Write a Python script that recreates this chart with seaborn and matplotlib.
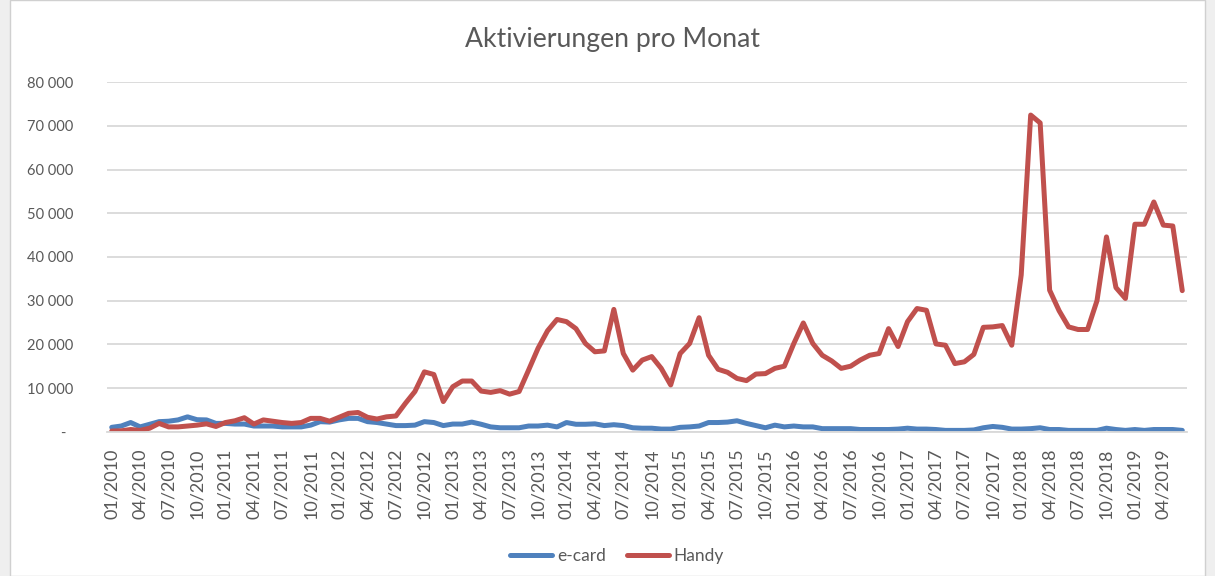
import matplotlib
matplotlib.use("Agg")
import matplotlib.pyplot as plt
from matplotlib.patches import Rectangle
import pandas as pd
import seaborn as sns

# Monate 01/2010 - 06/2019
months = pd.date_range("2010-01-01", periods=114, freq="MS")
month_labels = [m.strftime("%m/%Y") for m in months]

ecard = [1000, 1300, 2100, 1100, 1700, 2300, 2400, 2700, 3400, 2750,
         2700, 1900, 1900, 1750, 1750, 1300, 1300, 1300, 1100, 1100,
         1100, 1500, 2300, 2200, 2700, 3050, 3050, 2300, 2100, 1750,
         1400, 1400, 1500, 2300, 2100, 1400, 1750, 1750, 2200, 1700,
         1100, 900, 900, 900, 1300, 1300, 1500, 1100, 2100, 1700,
         1700, 1800, 1400, 1600, 1400, 900, 800, 800, 600, 600,
         1000, 1100, 1300, 2100, 2100, 2200, 2500, 1900, 1400, 900,
         1500, 1100, 1300, 1100, 1100, 700, 700, 700, 700, 500,
         500, 500, 500, 600, 800, 600, 600, 500, 300, 300,
         300, 400, 900, 1200, 1000, 600, 600, 700, 900, 500,
         500, 300, 300, 300, 300, 800, 500, 300, 500, 300,
         500, 500, 500, 300]

handy = [150, 200, 500, 300, 800, 1900, 1100, 1100, 1300, 1500,
         1800, 1200, 2100, 2500, 3200, 1750, 2700, 2400, 2100, 1900,
         2100, 3050, 3050, 2400, 3300, 4200, 4400, 3300, 2900, 3400,
         3600, 6500, 9200, 13700, 13100, 6900, 10300, 11600, 11600, 9300,
         9000, 9400, 8600, 9200, 14100, 19100, 23100, 25700, 25200, 23600,
         20200, 18300, 18500, 28000, 17900, 14100, 16400, 17200, 14500, 10700,
         17900, 20200, 26100, 17500, 14300, 13600, 12200, 11700, 13200, 13300,
         14500, 15000, 20200, 24900, 20200, 17500, 16200, 14500, 15000, 16400,
         17500, 17900, 23600, 19500, 25200, 28200, 27800, 20100, 19800, 15600,
         16000, 17700, 23900, 24000, 24300, 19800, 35900, 72500, 70700, 32400,
         27700, 24000, 23400, 23400, 30000, 44600, 33000, 30500, 47500, 47500,
         52600, 47300, 47100, 32300]

y_ticks = [0, 10000, 20000, 30000, 40000, 50000, 60000, 70000, 80000]
y_labels = ["-  ", "10 000", "20 000", "30 000", "40 000",
            "50 000", "60 000", "70 000", "80 000"]

df = pd.DataFrame({
    "idx": list(range(len(months))) * 2,
    "wert": ecard + handy,
    "serie": ["e-card"] * len(ecard) + ["Handy"] * len(handy),
})

sns.set_theme(style="white")
plt.rcParams["font.family"] = ["Lato", "DejaVu Sans"]
grau = "#595959"

fig = plt.figure(figsize=(12.15, 5.76), dpi=100, facecolor="#EFEFEF")
# weisser Diagrammbereich (hinter den Achsen)
fig.patches.append(Rectangle((10 / 1215, 0), 1195 / 1215, 1, transform=fig.transFigure,
                             facecolor="white", edgecolor="#D0D0D0", lw=1, zorder=-10))
ax = fig.add_axes([107 / 1215, 1 - 431.7 / 576, 1080 / 1215, 349.4 / 576])
ax.set_facecolor("white")

sns.lineplot(data=df, x="idx", y="wert", hue="serie", ax=ax,
             palette={"e-card": "#4F81BD", "Handy": "#C0504D"},
             linewidth=3.6, legend=False)
for line in ax.get_lines():
    line.set_solid_joinstyle("round")
    line.set_solid_capstyle("round")

ax.set_xlim(-0.5, len(months) - 0.5)
ax.set_ylim(0, 80000)
ax.set_yticks(y_ticks)
ax.set_yticklabels(y_labels, fontsize=10.5, color=grau)
ax.set_xticks(range(0, len(months), 3))
ax.set_xticklabels(month_labels[::3], rotation=90, fontsize=13, color=grau)
ax.tick_params(axis="y", length=0, pad=24)
ax.tick_params(axis="x", length=0, pad=12)
ax.yaxis.grid(True, color="#D9D9D9", linewidth=1.3)
ax.set_axisbelow(True)
for s in ["left", "right", "top"]:
    ax.spines[s].set_visible(False)
ax.spines["bottom"].set_color("#D9D9D9")
ax.spines["bottom"].set_linewidth(1.3)
ax.set_xlabel("")
ax.set_ylabel("")

fig.text(0.504, 0.931, "Aktivierungen pro Monat", ha="center", va="center",
         fontsize=19.2, color=grau)

handles = [plt.Line2D([], [], color="#4F81BD", lw=3.6, solid_capstyle="round"),
           plt.Line2D([], [], color="#C0504D", lw=3.6, solid_capstyle="round")]
leg = fig.legend(handles, ["e-card", "Handy"], loc="center", ncol=2,
                 bbox_to_anchor=(0.508, 1 - 556 / 576), frameon=False,
                 fontsize=12.5, handlelength=2.4, handletextpad=0.3,
                 columnspacing=1.2)
for t in leg.get_texts():
    t.set_color(grau)

fig.savefig("out.png", dpi=100, facecolor=fig.get_facecolor())
